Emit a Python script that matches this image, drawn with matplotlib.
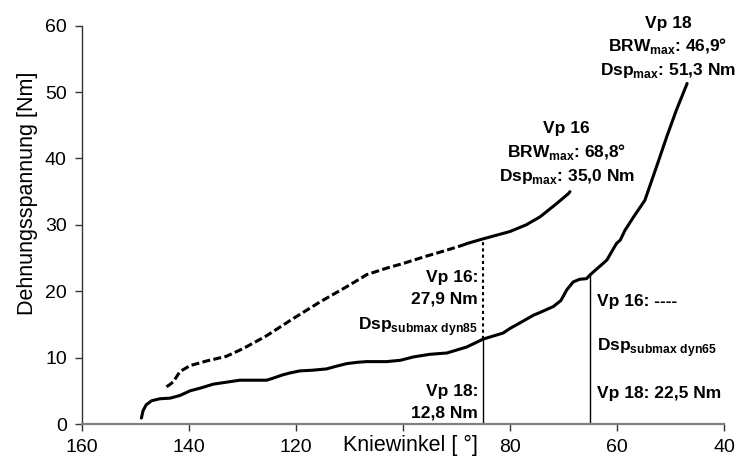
import matplotlib
matplotlib.use("Agg")
import matplotlib.pyplot as plt

plt.rcParams['font.family'] = ['Liberation Sans', 'DejaVu Sans']
plt.rcParams['mathtext.fontset'] = 'custom'
plt.rcParams['mathtext.rm'] = 'Liberation Sans'
plt.rcParams['mathtext.bf'] = 'Liberation Sans:bold'

# Vp 18 (solid curve): knee angle [deg] and stretch torque [Nm]
vp18_angle = [148.9, 148.6, 148.0, 147.0, 145.5, 143.5, 141.7, 139.8, 137.5, 135.5,
              133.0, 130.5, 128.0, 125.5, 124.3, 122.5, 121.1, 119.3, 117.0, 114.3,
              112.5, 110.5, 108.5, 106.8, 103.1, 100.5, 98.1, 95.0, 91.8, 88.1,
              85.0, 81.3, 80.0, 78.0, 75.6, 74.4, 71.9, 70.5, 69.4, 68.2,
              67.0, 65.7, 65.0, 62.6, 61.9, 60.1, 59.4, 58.5, 56.9, 54.8,
              52.6, 50.7, 48.9, 46.9]
vp18_torque = [0.9, 2.0, 2.9, 3.5, 3.8, 3.9, 4.3, 5.0, 5.5, 6.0,
               6.3, 6.6, 6.6, 6.6, 6.9, 7.4, 7.7, 8.0, 8.1, 8.3,
               8.7, 9.1, 9.3, 9.4, 9.4, 9.6, 10.1, 10.5, 10.7, 11.6,
               12.8, 13.7, 14.4, 15.3, 16.4, 16.8, 17.7, 18.6, 20.2, 21.4,
               21.8, 21.9, 22.5, 24.2, 24.7, 27.2, 27.7, 29.2, 31.2, 33.7,
               38.8, 43.3, 47.3, 51.3]

# Vp 16 (dashed curve)
vp16_angle = [144.2, 143.5, 142.9, 141.7, 139.8, 136.7, 133.0, 129.8, 125.5, 120.5,
              115.5, 110.5, 108.0, 106.8, 103.0, 99.9, 96.0, 91.8, 89.0, 88.0,
              85.0, 80.0, 77.0, 74.4, 71.3, 69.1, 68.8]
vp16_torque = [5.6, 6.0, 6.4, 7.9, 8.8, 9.5, 10.2, 11.4, 13.3, 15.9,
               18.4, 20.7, 21.9, 22.5, 23.5, 24.2, 25.2, 26.2, 26.9, 27.2,
               27.9, 29.0, 30.0, 31.2, 33.2, 34.7, 35.0]

# submaximal reference angles and the torques read there
ref_angle_85 = 85
ref_vp16_85 = 27.9
ref_vp18_85 = 12.8
ref_angle_65 = 65
ref_vp18_65 = 22.5

x_ticks = [160, 140, 120, 100, 80, 60, 40]
x_ticklabels = ['160', '140', '120', '', '80', '60', '40']
y_ticks = [0, 10, 20, 30, 40, 50, 60]

fig = plt.figure(figsize=(7.37, 4.66), dpi=100)
ax = fig.add_axes([0.1113, 0.0901, 0.8711, 0.8547])

LW = 2.2
ax.plot(vp18_angle, vp18_torque, color='black', lw=LW, solid_capstyle='round')

# dashed part of Vp 16, solid for the last stretch
split = vp16_angle.index(89.0)
ax.plot(vp16_angle[:split + 1], vp16_torque[:split + 1], color='black', lw=LW,
        dashes=(2.6, 1.1))
ax.plot(vp16_angle[split:], vp16_torque[split:], color='black', lw=LW,
        solid_capstyle='round')

# reference lines
ax.plot([ref_angle_85, ref_angle_85], [ref_vp18_85, ref_vp16_85], color='black',
        lw=1.5, dashes=(1.5, 1.5))
ax.plot([ref_angle_85, ref_angle_85], [0, ref_vp18_85], color='black', lw=1.0)
ax.plot([ref_angle_65, ref_angle_65], [0, ref_vp18_65], color='black', lw=1.0)

ax.set_xlim(160, 40)
ax.set_ylim(0, 60)
ax.set_xticks(x_ticks)
ax.set_xticklabels(x_ticklabels)
ax.set_yticks(y_ticks)
ax.tick_params(axis='both', labelsize=14, length=5, width=1.0, direction='out',
               color='#333333', pad=6)

for side in ('top', 'right'):
    ax.spines[side].set_visible(False)
ax.spines['bottom'].set_color('#808080')
ax.spines['bottom'].set_linewidth(1.6)
ax.spines['left'].set_color('#333333')
ax.spines['left'].set_linewidth(1.0)

ax.set_ylabel('Dehnungsspannung [Nm]', fontsize=15.5, va='center')
ax.yaxis.set_label_coords(-0.0857, 0.58)
ax.set_xlabel('Kniewinkel [ °]', fontsize=15.5, va='top')
ax.xaxis.set_label_coords(0.511, -0.027)

bold = dict(fontsize=12.5, fontweight='bold', color='black')

# maxima annotations
ax.text(50.5, 59.7, 'Vp 18', ha='center', va='baseline', clip_on=False, **bold)
ax.text(50.5, 56.2, r'BRW$_{\mathbf{max}}$: 46,9°', ha='center', va='baseline',
        clip_on=False, **bold)
ax.text(50.5, 52.6, r'Dsp$_{\mathbf{max}}$: 51,3 Nm', ha='center', va='baseline',
        clip_on=False, **bold)

ax.text(69.4, 43.8, 'Vp 16', ha='center', va='baseline', **bold)
ax.text(69.4, 40.2, r'BRW$_{\mathbf{max}}$: 68,8°', ha='center', va='baseline', **bold)
ax.text(69.4, 36.6, r'Dsp$_{\mathbf{max}}$: 35,0 Nm', ha='center', va='baseline', **bold)

# values at 85 deg
ax.text(86, 21.4, 'Vp 16:', ha='right', va='baseline', **bold)
ax.text(86, 18.1, '27,9 Nm', ha='right', va='baseline', **bold)
ax.text(86, 14.2, r'Dsp$_{\mathbf{submax\ dyn85}}$', ha='right', va='baseline', **bold)
ax.text(86, 4.2, 'Vp 18:', ha='right', va='baseline', **bold)
ax.text(86, 1.0, '12,8 Nm', ha='right', va='baseline', **bold)

# values at 65 deg
ax.text(63.8, 17.8, 'Vp 16: ----', ha='left', va='baseline', **bold)
ax.text(63.8, 11.0, r'Dsp$_{\mathbf{submax\ dyn65}}$', ha='left', va='baseline', **bold)
ax.text(63.8, 3.9, 'Vp 18: 22,5 Nm', ha='left', va='baseline', **bold)

fig.savefig('out.png', dpi=100)
